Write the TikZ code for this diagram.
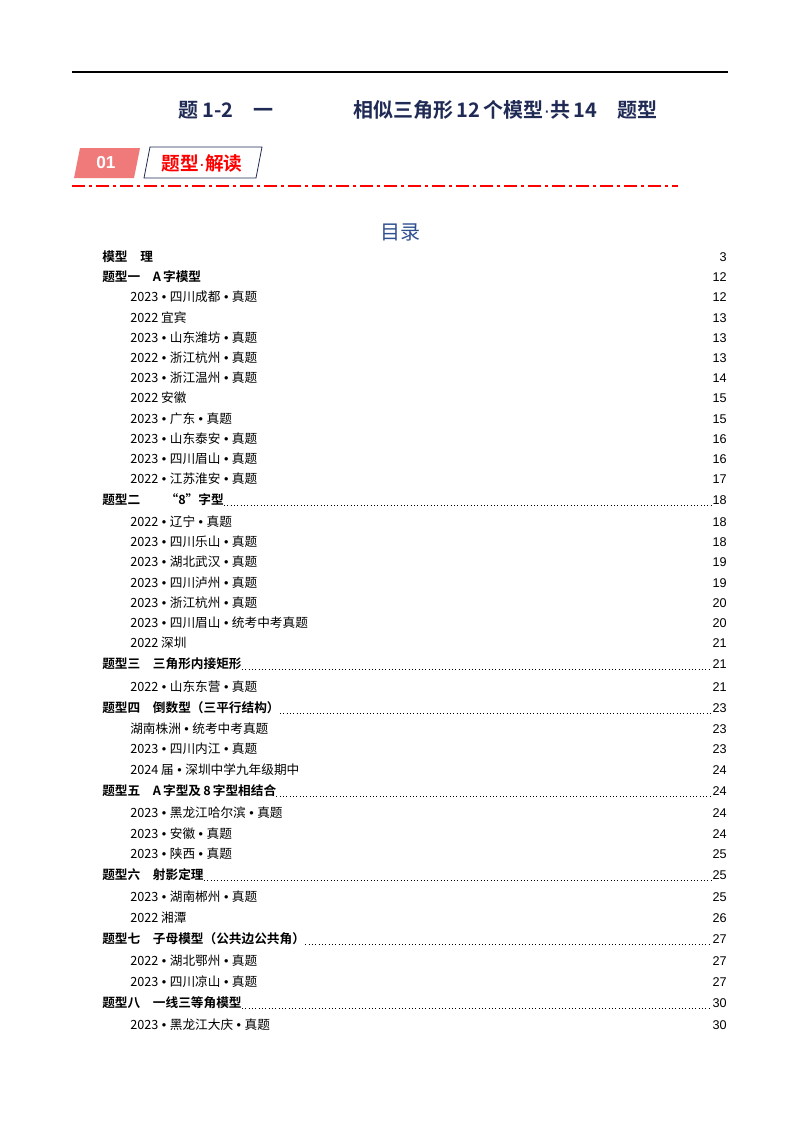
\documentclass[tikz,border=0pt]{standalone}
\usepackage{fontspec}
\setmainfont{Liberation Sans}
\newfontfamily\cjk{Noto Sans CJK SC}
\newfontfamily\cjkb{Noto Sans CJK SC Bold}
\newfontfamily\latf{Liberation Sans}
\newcommand{\bul}{{\latf\ •\ }}
\newcommand{\ld}{{\latf ·}}
\definecolor{navy}{HTML}{1F2A55}
\definecolor{pinkf}{HTML}{F07A7A}
\definecolor{tocblue}{HTML}{2F4F8F}
\begin{document}
\begin{tikzpicture}[x=0.75pt,y=-0.75pt,
  lone/.style={anchor=west,inner sep=0pt,font=\fontsize{9.5}{11}\cjkb},
  ltwo/.style={anchor=west,inner sep=0pt,font=\fontsize{9.5}{11}\cjk},
  pg/.style={anchor=east,inner sep=0pt,font=\fontsize{9.5}{11}\selectfont},
  lead/.style={dotted,line width=0.5pt}]
\useasboundingbox (0,0) rectangle (800,1132);
\draw[line width=1.5pt] (72,72) -- (728,72);
\node[font=\fontsize{15}{18}\cjkb,text=navy] (title) at (418,110) {题\,1-2\quad 一\qquad\qquad 相似三角形\,12\,个模型\ld 共\,14\quad 题型};
\fill[pinkf] (80,148) -- (140,148) -- (134,178) -- (74,178) -- cycle;
\node[text=white,font=\fontsize{13}{15}\selectfont\bfseries] (n01) at (106,163) {01};
\draw[navy,fill=white,line width=0.6pt] (150,147) -- (262,147) -- (256,178) -- (144,178) -- cycle;
\node[text=red,font=\fontsize{14}{16}\cjkb] (hd) at (202,163) {题型\ld 解读};
\draw[red,line width=1.6pt,dash pattern=on 10pt off 3pt on 2pt off 3pt] (72,186) -- (678,186);
\node[text=tocblue,font=\fontsize{15}{18}\cjk] (ml) at (400,232) {目录};
\foreach \y/\t/\p [count=\i] in {
257/{模型\quad 理}/3,
277/{题型一\quad A\,字模型}/12}{
  \node[lone] (a\i) at (102,\y) {\t};
  \node[pg] (ap\i) at (727,\y) {\p};
}
\foreach \y/\t/\p [count=\i] in {
297/{2023\bul 四川成都\bul 真题}/12,
318/{2022 宜宾}/13,
338/{2023\bul 山东潍坊\bul 真题}/13,
358/{2022\bul 浙江杭州\bul 真题}/13,
378/{2023\bul 浙江温州\bul 真题}/14,
398/{2022 安徽}/15,
419/{2023\bul 广东\bul 真题}/15,
439/{2023\bul 山东泰安\bul 真题}/16,
459/{2023\bul 四川眉山\bul 真题}/16,
479/{2022\bul 江苏淮安\bul 真题}/17,
522/{2022\bul 辽宁\bul 真题}/18,
542/{2023\bul 四川乐山\bul 真题}/18,
562/{2023\bul 湖北武汉\bul 真题}/19,
583/{2023\bul 四川泸州\bul 真题}/19,
603/{2023\bul 浙江杭州\bul 真题}/20,
623/{2023\bul 四川眉山\bul 统考中考真题}/20,
643/{2022 深圳}/21,
687/{2022\bul 山东东营\bul 真题}/21,
729/{湖南株洲\bul 统考中考真题}/23,
749/{2023\bul 四川内江\bul 真题}/23,
770/{2024 届\bul 深圳中学九年级期中}/24,
813/{2023\bul 黑龙江哈尔滨\bul 真题}/24,
834/{2023\bul 安徽\bul 真题}/24,
854/{2023\bul 陕西\bul 真题}/25,
897/{2023\bul 湖南郴州\bul 真题}/25,
918/{2022 湘潭}/26,
961/{2022\bul 湖北鄂州\bul 真题}/27,
982/{2023\bul 四川凉山\bul 真题}/27,
1025/{2023\bul 黑龙江大庆\bul 真题}/30}{
  \node[ltwo] (b\i) at (130,\y) {\t};
  \node[pg] (bp\i) at (727,\y) {\p};
}
\foreach \y/\t/\p [count=\i] in {
500/{题型二\qquad “8”字型}/18,
664/{题型三\quad 三角形内接矩形}/21,
708/{题型四\quad 倒数型（三平行结构）}/23,
791/{题型五\quad A\,字型及\,8\,字型相结合}/24,
875/{题型六\quad 射影定理}/25,
939/{题型七\quad 子母模型（公共边公共角）}/27,
1003/{题型八\quad 一线三等角模型}/30}{
  \node[lone] (c\i) at (102,\y) {\t};
  \node[pg] (cp\i) at (727,\y) {\p};
  \draw[lead] ([yshift=-4pt]c\i.east) -- ([yshift=-4pt,xshift=-1pt]cp\i.west);
}
\end{tikzpicture}
\end{document}
